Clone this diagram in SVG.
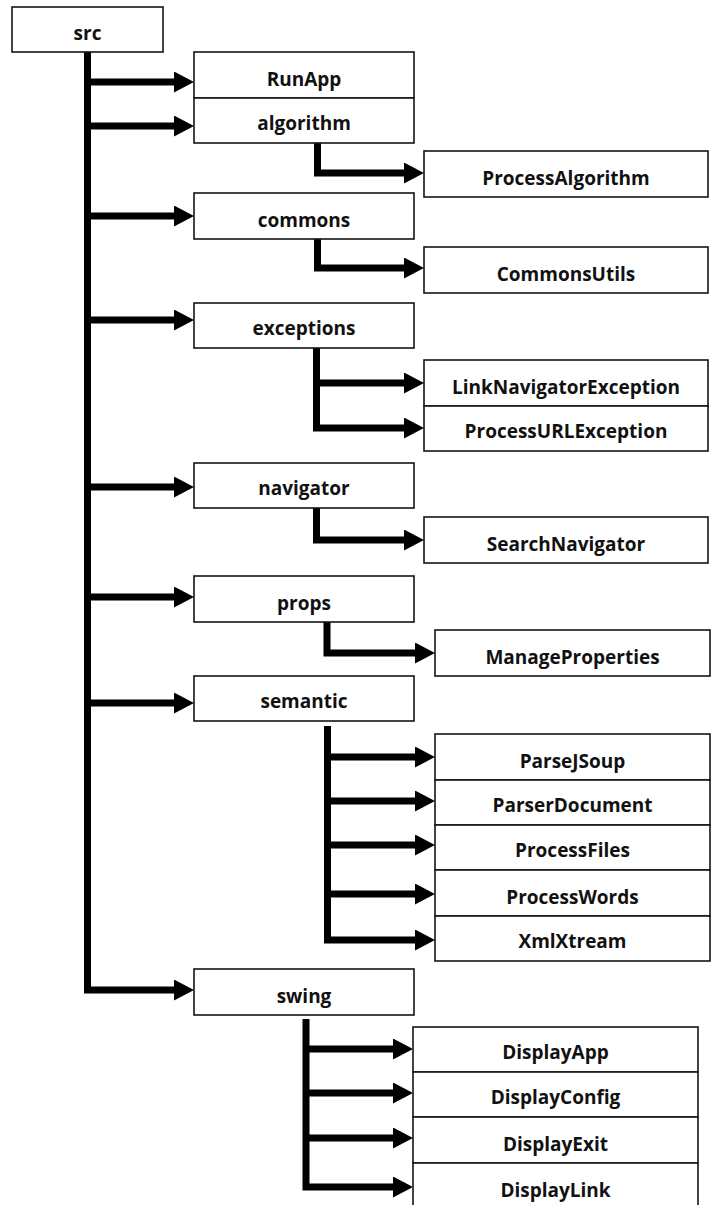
<svg xmlns="http://www.w3.org/2000/svg" width="712" height="1205" viewBox="0 0 712 1205">
  <defs>
    <style>
      .box { fill: #ffffff; stroke: #141414; stroke-width: 1.6; }
      .lbl { font-family: "Open Sans", "Lato", sans-serif; font-weight: 700; font-size: 19px; fill: #111111; text-anchor: middle; }
      .wire { fill: none; stroke: #000000; stroke-width: 7; stroke-linejoin: miter; stroke-linecap: butt; }
      .tipline { marker-end: url(#arrow); }
    </style>
    <marker id="arrow" markerUnits="userSpaceOnUse" markerWidth="21" markerHeight="22" refX="0" refY="10.5" orient="auto">
      <path d="M0,0 L20,10.5 L0,21 Z" fill="#000000"/>
    </marker>
  </defs>
  <rect width="712" height="1205" fill="#ffffff"/>

  <!-- connectors -->
  <g id="connectors">
    <!-- main trunk from src down to swing -->
    <path class="wire tipline" d="M87.5,52 V990 H174"/>
    <path class="wire tipline" d="M87.5,82 H174"/>
    <path class="wire tipline" d="M87.5,126 H174"/>
    <path class="wire tipline" d="M87.5,216 H174"/>
    <path class="wire tipline" d="M87.5,320 H174"/>
    <path class="wire tipline" d="M87.5,487 H174"/>
    <path class="wire tipline" d="M87.5,597 H174"/>
    <path class="wire tipline" d="M87.5,703 H174"/>

    <!-- algorithm -->
    <path class="wire tipline" d="M317.5,143 V173 H404"/>
    <!-- commons -->
    <path class="wire tipline" d="M317.5,239 V268 H404"/>
    <!-- exceptions -->
    <path class="wire tipline" d="M316.5,348 V428 H404"/>
    <path class="wire tipline" d="M316.5,383 H404"/>
    <!-- navigator -->
    <path class="wire tipline" d="M316.5,508 V540 H404"/>
    <!-- props -->
    <path class="wire tipline" d="M327,622 V653 H415"/>
    <!-- semantic -->
    <path class="wire tipline" d="M327.5,726 V940 H415"/>
    <path class="wire tipline" d="M327.5,757 H415"/>
    <path class="wire tipline" d="M327.5,801 H415"/>
    <path class="wire tipline" d="M327.5,845 H415"/>
    <path class="wire tipline" d="M327.5,894 H415"/>
    <!-- swing -->
    <path class="wire tipline" d="M306,1019 V1187 H393"/>
    <path class="wire tipline" d="M306,1049 H393"/>
    <path class="wire tipline" d="M306,1093 H393"/>
    <path class="wire tipline" d="M306,1138 H393"/>
  </g>

  <!-- root -->
  <g id="src"><rect class="box" x="12" y="7" width="151" height="45"/><text class="lbl" x="87.5" y="39.5">src</text></g>

  <!-- packages and classes -->
  <g id="RunApp"><rect class="box" x="194" y="52" width="220" height="46"/><text class="lbl" x="304" y="85.5">RunApp</text></g>
  <g id="algorithm"><rect class="box" x="194" y="98" width="220" height="45"/><text class="lbl" x="304" y="130">algorithm</text></g>
  <g id="ProcessAlgorithm"><rect class="box" x="424" y="151" width="284" height="46"/><text class="lbl" x="566" y="184.5">ProcessAlgorithm</text></g>

  <g id="commons"><rect class="box" x="194" y="193" width="220" height="46"/><text class="lbl" x="304" y="226.5">commons</text></g>
  <g id="CommonsUtils"><rect class="box" x="424" y="247" width="284" height="46"/><text class="lbl" x="566" y="280.5">CommonsUtils</text></g>

  <g id="exceptions"><rect class="box" x="194" y="303" width="220" height="45"/><text class="lbl" x="304" y="335">exceptions</text></g>
  <g id="LinkNavigatorException"><rect class="box" x="424" y="360" width="284" height="46"/><text class="lbl" x="566" y="393.5">LinkNavigatorException</text></g>
  <g id="ProcessURLException"><rect class="box" x="424" y="406" width="284" height="45"/><text class="lbl" x="566" y="438">ProcessURLException</text></g>

  <g id="navigator"><rect class="box" x="194" y="463" width="220" height="45"/><text class="lbl" x="304" y="495">navigator</text></g>
  <g id="SearchNavigator"><rect class="box" x="424" y="517" width="284" height="46"/><text class="lbl" x="566" y="550.5">SearchNavigator</text></g>

  <g id="props"><rect class="box" x="194" y="576" width="220" height="46"/><text class="lbl" x="304" y="609.5">props</text></g>
  <g id="ManageProperties"><rect class="box" x="435" y="630" width="275" height="46"/><text class="lbl" x="572.5" y="663.5">ManageProperties</text></g>

  <g id="semantic"><rect class="box" x="194" y="676" width="220" height="45"/><text class="lbl" x="304" y="708">semantic</text></g>
  <g id="ParseJSoup"><rect class="box" x="435" y="734" width="275" height="46"/><text class="lbl" x="572.5" y="767.5">ParseJSoup</text></g>
  <g id="ParserDocument"><rect class="box" x="435" y="780" width="275" height="45"/><text class="lbl" x="572.5" y="812">ParserDocument</text></g>
  <g id="ProcessFiles"><rect class="box" x="435" y="825" width="275" height="45"/><text class="lbl" x="572.5" y="857">ProcessFiles</text></g>
  <g id="ProcessWords"><rect class="box" x="435" y="870" width="275" height="46"/><text class="lbl" x="572.5" y="903.5">ProcessWords</text></g>
  <g id="XmlXtream"><rect class="box" x="435" y="916" width="275" height="45"/><text class="lbl" x="572.5" y="948">XmlXtream</text></g>

  <g id="swing"><rect class="box" x="194" y="969" width="220" height="46"/><text class="lbl" x="304" y="1002.5">swing</text></g>
  <g id="DisplayApp"><rect class="box" x="413" y="1027" width="285" height="45"/><text class="lbl" x="555.5" y="1059">DisplayApp</text></g>
  <g id="DisplayConfig"><rect class="box" x="413" y="1072" width="285" height="45"/><text class="lbl" x="555.5" y="1104">DisplayConfig</text></g>
  <g id="DisplayExit"><rect class="box" x="413" y="1117" width="285" height="46"/><text class="lbl" x="555.5" y="1150.5">DisplayExit</text></g>
  <g id="DisplayLink"><rect class="box" x="413" y="1163" width="285" height="46"/><text class="lbl" x="555.5" y="1196.5">DisplayLink</text></g>
</svg>
